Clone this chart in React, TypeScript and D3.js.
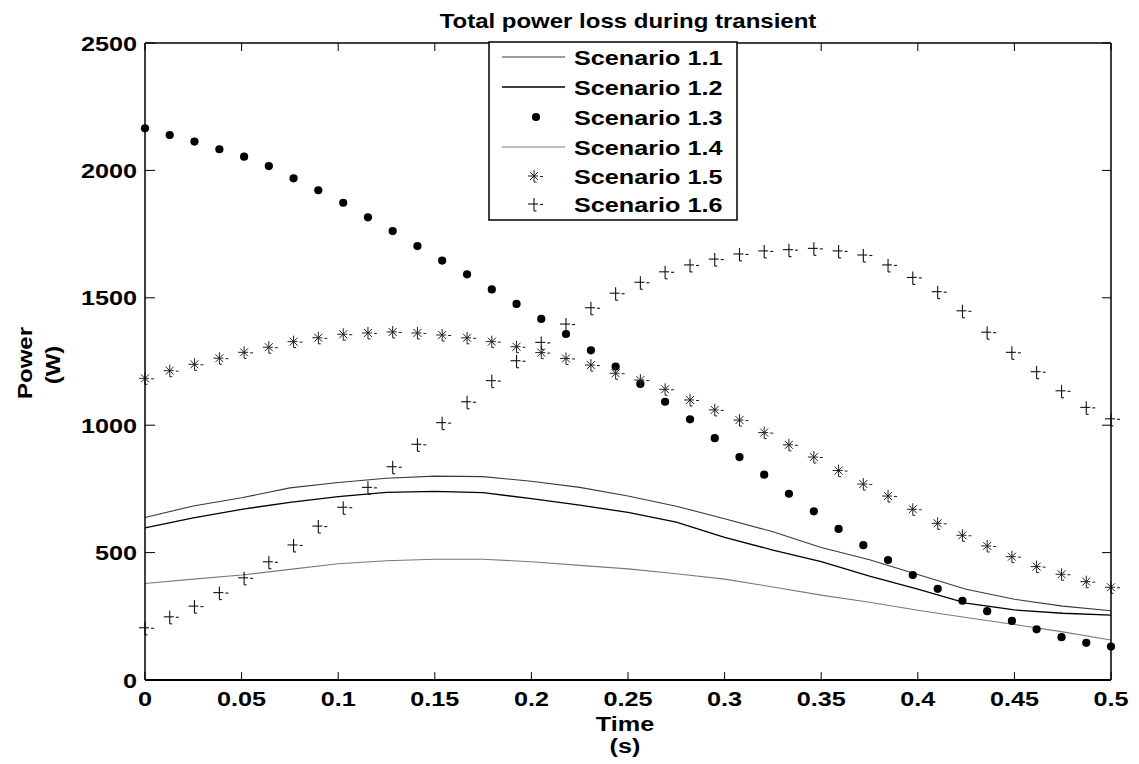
import React from "react";
import * as d3 from "d3";

// sample times of the marker series (s)
const times = [
  0, 0.0128, 0.0256, 0.0385, 0.0513, 0.0641, 0.0769, 0.0897, 0.1026, 0.1154,
  0.1282, 0.141, 0.1538, 0.1667, 0.1795, 0.1923, 0.2051, 0.2179, 0.2308, 0.2436,
  0.2564, 0.2692, 0.2821, 0.2949, 0.3077, 0.3205, 0.3333, 0.3462, 0.359, 0.3718,
  0.3846, 0.3974, 0.4103, 0.4231, 0.4359, 0.4487, 0.4615, 0.4744, 0.4872, 0.5,
];
// sample times of the line series (s)
const lineTimes = [
  0, 0.025, 0.05, 0.075, 0.1, 0.125, 0.15, 0.175, 0.2, 0.225, 0.25,
  0.275, 0.3, 0.325, 0.35, 0.375, 0.4, 0.425, 0.45, 0.475, 0.5,
];

const s11 = [638, 683, 715, 754, 775, 792, 800, 798, 780, 756, 722, 682, 633, 582, 520, 472, 414, 356, 317, 290, 272];
const s12 = [597, 636, 670, 697, 720, 736, 740, 735, 712, 686, 658, 620, 560, 510, 465, 408, 357, 302, 275, 262, 255];
const s14 = [379, 396, 412, 434, 456, 468, 474, 474, 464, 450, 436, 417, 396, 365, 333, 305, 274, 245, 218, 189, 157];

const s13 = [2165, 2139, 2113, 2083, 2054, 2017, 1969, 1922, 1873, 1816, 1762, 1703, 1646, 1592, 1533, 1476, 1417, 1358, 1294, 1230, 1162, 1092, 1023, 949, 875, 806, 731, 662, 593, 529, 471, 412, 358, 311, 270, 232, 199, 168, 146, 131];
const s15 = [1184, 1214, 1239, 1263, 1286, 1306, 1328, 1343, 1357, 1362, 1366, 1362, 1354, 1343, 1328, 1308, 1285, 1262, 1236, 1204, 1177, 1141, 1099, 1060, 1020, 971, 923, 875, 822, 769, 722, 670, 615, 568, 526, 484, 445, 415, 386, 364];
const s16 = [205, 248, 290, 343, 401, 464, 530, 604, 678, 756, 837, 925, 1010, 1092, 1175, 1253, 1325, 1397, 1461, 1518, 1561, 1602, 1629, 1652, 1672, 1684, 1689, 1694, 1684, 1668, 1629, 1580, 1524, 1449, 1365, 1286, 1210, 1135, 1070, 1025];

const xTicks = [0, 0.05, 0.1, 0.15, 0.2, 0.25, 0.3, 0.35, 0.4, 0.45, 0.5];
const yTicks = [0, 500, 1000, 1500, 2000, 2500];
const legendNames = ["Scenario 1.1", "Scenario 1.2", "Scenario 1.3", "Scenario 1.4", "Scenario 1.5", "Scenario 1.6"];

const W = 1139;
const H = 764;
const left = 145, right = 1111, top = 43, bottom = 680;
const FONT = "'Liberation Sans', Arial, Helvetica, sans-serif";

// stretched bold text (the original figure is widened horizontally)
function Label({ x, y, anchor = "middle", rotate = 0, size = 21, children }) {
  return (
    <g transform={`translate(${x},${y}) rotate(${rotate}) scale(1.2,1)`}>
      <text textAnchor={anchor} fontFamily={FONT} fontWeight="bold" fontSize={size} fill="#000">
        {children}
      </text>
    </g>
  );
}

const Dot = ({ x, y }) => <circle cx={x} cy={y} r={4.1} fill="#000" />;

const Plus = ({ x, y }) => (
  <g stroke="#111" strokeWidth={1.1} fill="none">
    <line x1={x - 6} y1={y} x2={x + 4} y2={y} />
    <line x1={x + 6} y1={y + 0.5} x2={x + 9} y2={y + 0.5} />
    <line x1={x} y1={y - 6} x2={x} y2={y + 7} />
    <line x1={x} y1={y + 7} x2={x + 2.5} y2={y + 7} />
  </g>
);

const Star = ({ x, y }) => (
  <g stroke="#222" strokeWidth={1} fill="none">
    <line x1={x - 6} y1={y} x2={x + 4} y2={y} />
    <line x1={x + 6} y1={y + 0.5} x2={x + 9} y2={y + 0.5} />
    <line x1={x} y1={y - 6} x2={x} y2={y + 6} />
    <line x1={x - 4} y1={y - 4} x2={x + 4} y2={y + 4} />
    <line x1={x - 4} y1={y + 4} x2={x + 4} y2={y - 4} />
    <line x1={x} y1={y + 6} x2={x + 2.5} y2={y + 6} />
  </g>
);

export default function App() {
  const x = d3.scaleLinear().domain([0, 0.5]).range([left, right]);
  const y = d3.scaleLinear().domain([0, 2500]).range([bottom, top]);

  const line = d3
    .line<number>()
    .x((_, i) => x(lineTimes[i]))
    .y((d) => y(d));

  const lines = [
    { data: s11, color: "#3a3a3a", width: 1.1 },
    { data: s12, color: "#000", width: 1.3 },
    { data: s14, color: "#7a7a7a", width: 1.1 },
  ];

  const legendX0 = 489, legendX1 = 737, legendY0 = 42, legendY1 = 220;
  const legendRows = [57, 87, 117, 147, 176, 204];

  return (
    <svg width={W} height={H} style={{ position: "absolute", left: 0, top: 0, background: "#fff" }}>
      <rect x={0} y={0} width={W} height={H} fill="#fff" />

      {/* data */}
      {lines.map((l, i) => (
        <path key={i} d={line(l.data)} fill="none" stroke={l.color} strokeWidth={l.width} />
      ))}
      {s13.map((v, i) => <Dot key={"a" + i} x={x(times[i])} y={y(v)} />)}
      {s15.map((v, i) => <Star key={"b" + i} x={x(times[i])} y={y(v)} />)}
      {s16.map((v, i) => <Plus key={"c" + i} x={x(times[i])} y={y(v)} />)}

      {/* axes box */}
      <line x1={left} y1={top} x2={right} y2={top} stroke="#000" strokeWidth={1.5} />
      <line x1={right} y1={top} x2={right} y2={bottom} stroke="#000" strokeWidth={1.5} />
      <line x1={left} y1={top} x2={left} y2={bottom} stroke="#000" strokeWidth={1.5} />
      <line x1={left} y1={bottom} x2={right} y2={bottom} stroke="#000" strokeWidth={2} />

      {xTicks.map((t) => (
        <g key={"x" + t}>
          <line x1={x(t)} y1={bottom} x2={x(t)} y2={bottom - 8} stroke="#000" strokeWidth={1} />
          <line x1={x(t)} y1={top} x2={x(t)} y2={top + 8} stroke="#000" strokeWidth={1} />
          <Label x={x(t)} y={706}>{String(t)}</Label>
        </g>
      ))}
      {yTicks.map((v) => (
        <g key={"y" + v}>
          <line x1={left} y1={y(v)} x2={left + 10} y2={y(v)} stroke="#000" strokeWidth={1} />
          <line x1={right} y1={y(v)} x2={right - 9} y2={y(v)} stroke="#000" strokeWidth={1} />
          <Label x={137} y={y(v) + 7.5} anchor="end">{String(v)}</Label>
        </g>
      ))}

      {/* titles */}
      <Label x={628} y={28} size={20}>Total power loss during transient</Label>
      <Label x={625} y={731}>Time</Label>
      <Label x={625} y={753}>(s)</Label>
      <Label x={32} y={363} rotate={-90} size={20}>Power</Label>
      <Label x={60} y={365} rotate={-90} size={20}>(W)</Label>

      {/* legend */}
      <rect x={legendX0} y={legendY0} width={legendX1 - legendX0} height={legendY1 - legendY0} fill="#fff" stroke="#000" strokeWidth={1.5} />
      {legendNames.map((name, i) => {
        const ry = legendRows[i];
        let marker = null;
        if (i === 0) marker = <line x1={502} y1={ry} x2={565} y2={ry} stroke="#3a3a3a" strokeWidth={1.1} />;
        if (i === 1) marker = <line x1={502} y1={ry} x2={565} y2={ry} stroke="#000" strokeWidth={1.3} />;
        if (i === 2) marker = <Dot x={536} y={ry} />;
        if (i === 3) marker = <line x1={502} y1={ry} x2={565} y2={ry} stroke="#7a7a7a" strokeWidth={1.1} />;
        if (i === 4) marker = <Star x={534} y={ry} />;
        if (i === 5) marker = <Plus x={534} y={ry} />;
        return (
          <g key={name}>
            {marker}
            <Label x={574} y={ry + 7.5} anchor="start">{name}</Label>
          </g>
        );
      })}
    </svg>
  );
}
